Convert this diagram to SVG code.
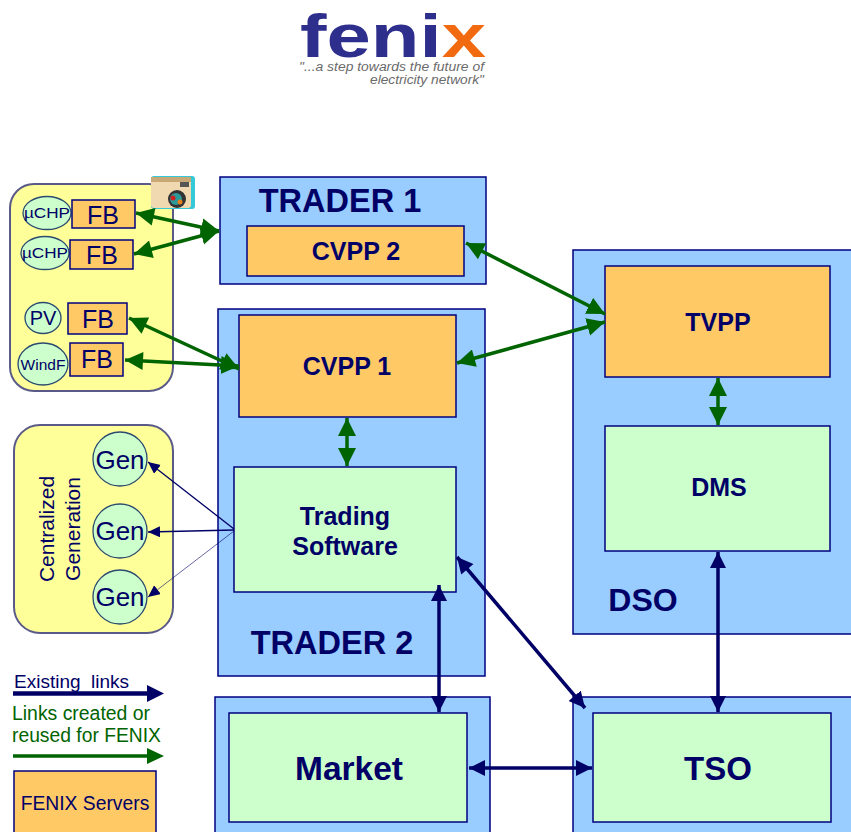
<svg xmlns="http://www.w3.org/2000/svg" width="851" height="832" viewBox="0 0 851 832">
<defs>
<style>
text{font-family:"Liberation Sans",Arial,sans-serif;fill:#000066;text-anchor:middle}
.blue{fill:#99ccff;stroke:#000080;stroke-width:1.5}
.org{fill:#ffc966;stroke:#000080;stroke-width:1.5}
.grn{fill:#ccffcc;stroke:#000080;stroke-width:1.5}
.yel{fill:#ffff99;stroke:#5a5a88;stroke-width:2}
.cir{fill:#ccffcc;stroke:#2a4a70;stroke-width:1.3}
.b{font-weight:bold}
.l{text-anchor:start}
.g{stroke:#006400;stroke-width:3.5;fill:none;marker-start:url(#gs);marker-end:url(#ge)}
.n{stroke:#000066;stroke-width:3.5;fill:none;marker-start:url(#ns);marker-end:url(#ne)}
</style>
<marker id="ge" markerUnits="userSpaceOnUse" markerWidth="20" markerHeight="20" refX="18" refY="9" orient="auto"><path d="M0 0L18 9L0 18Z" fill="#006400"/></marker>
<marker id="gs" markerUnits="userSpaceOnUse" markerWidth="20" markerHeight="20" refX="0" refY="9" orient="auto"><path d="M18 0L0 9L18 18Z" fill="#006400"/></marker>
<marker id="ne" markerUnits="userSpaceOnUse" markerWidth="20" markerHeight="18" refX="16" refY="8" orient="auto"><path d="M0 0L16 8L0 16Z" fill="#000066"/></marker>
<marker id="ns" markerUnits="userSpaceOnUse" markerWidth="20" markerHeight="18" refX="0" refY="8" orient="auto"><path d="M16 0L0 8L16 16Z" fill="#000066"/></marker>
<marker id="sm" markerUnits="userSpaceOnUse" markerWidth="14" markerHeight="12" refX="12" refY="5.5" orient="auto"><path d="M0 0L12 5.5L0 11Z" fill="#000066"/></marker>
</defs>
<rect width="851" height="832" fill="#fff"/>

<g id="logo">
<text x="300" y="57" style="font-size:62px;font-weight:bold;fill:#2e2e8c;text-anchor:start" textLength="186" lengthAdjust="spacingAndGlyphs">feni<tspan style="fill:#f26a10">x</tspan></text>
<text x="299" y="71" style="font-size:12px;font-style:italic;fill:#6a6a6a;text-anchor:start" textLength="185" lengthAdjust="spacingAndGlyphs">"...a step towards the future of</text>
<text x="370" y="84" style="font-size:12px;font-style:italic;fill:#6a6a6a;text-anchor:start" textLength="114" lengthAdjust="spacingAndGlyphs">electricity network"</text>
</g>

<g id="trader1">
<rect class="blue" x="220" y="177" width="266" height="107"/>
<text class="b" x="340" y="212" font-size="32.500">TRADER 1</text>
</g>
<g id="cvpp2"><rect class="org" x="247" y="226" width="217" height="50"/><text class="b" x="356" y="260" font-size="25">CVPP 2</text></g>
<g id="trader2">
<rect class="blue" x="218" y="309" width="267" height="367"/>
<text class="b" x="332" y="654" font-size="32.500">TRADER 2</text>
</g>
<g id="cvpp1"><rect class="org" x="239" y="315" width="217" height="102"/><text class="b" x="347" y="375" font-size="25">CVPP 1</text></g>
<g id="trading"><rect class="grn" x="234" y="467" width="222" height="125"/>
<text class="b" x="345" y="525" font-size="25">Trading</text><text class="b" x="345" y="555" font-size="25">Software</text></g>
<g id="dso">
<rect class="blue" x="573" y="250" width="279" height="384"/>
<text class="b" x="643" y="611" font-size="32">DSO</text>
</g>
<g id="tvpp"><rect class="org" x="605" y="266" width="225" height="111"/><text class="b" x="718" y="331" font-size="25">TVPP</text></g>
<g id="dms"><rect class="grn" x="605" y="426" width="225" height="125"/><text class="b" x="719" y="496" font-size="25">DMS</text></g>
<g id="marketbg"><rect class="blue" x="215" y="697" width="275" height="136"/></g>
<g id="market"><rect class="grn" x="229" y="713" width="238" height="109"/><text class="b" x="349" y="780" font-size="33.500">Market</text></g>
<g id="tsobg"><rect class="blue" x="573" y="697" width="279" height="136"/></g>
<g id="tso"><rect class="grn" x="593" y="713" width="238" height="109"/><text class="b" x="718" y="780" font-size="33">TSO</text></g>

<g id="fieldgroup">
<rect class="yel" x="10" y="184" width="163" height="207" rx="24"/>
</g>
<g id="washer">
<rect x="151" y="176" width="44" height="33" rx="3" fill="#35c8d8"/>
<rect x="151" y="177" width="40" height="31" rx="3" fill="#f0d8b0"/>
<rect x="151" y="177" width="40" height="5" fill="#c9a878"/>
<circle cx="177" cy="199" r="9" fill="#333"/>
<circle cx="176" cy="199" r="6" fill="#2a9a9a"/>
<circle cx="173" cy="198" r="2.500" fill="#d02020"/>
<circle cx="180" cy="202" r="2.500" fill="#e08020"/>
<rect x="180" y="182" width="9" height="5" fill="#555"/>
</g>
<g id="uchp1"><ellipse class="cir" cx="47" cy="213" rx="24" ry="16.500"/><text x="47" y="218" font-size="15.500" textLength="46" lengthAdjust="spacingAndGlyphs">µCHP</text></g>
<g id="fb1"><rect class="org" x="72" y="200" width="63" height="28"/><text x="103" y="224" font-size="25">FB</text></g>
<g id="uchp2"><ellipse class="cir" cx="45" cy="253" rx="24" ry="16.500"/><text x="45" y="258" font-size="15.500" textLength="46" lengthAdjust="spacingAndGlyphs">µCHP</text></g>
<g id="fb2"><rect class="org" x="70" y="240" width="63" height="29"/><text x="102" y="264" font-size="25">FB</text></g>
<g id="pv"><ellipse class="cir" cx="43" cy="318" rx="18" ry="15.500"/><text x="43" y="325" font-size="20">PV</text></g>
<g id="fb3"><rect class="org" x="68" y="303" width="59" height="31"/><text x="98" y="328" font-size="25">FB</text></g>
<g id="windf"><ellipse class="cir" cx="43" cy="364" rx="25" ry="21"/><text x="43" y="370" font-size="15.500">WindF</text></g>
<g id="fb4"><rect class="org" x="70" y="343" width="53" height="33"/><text x="97" y="368" font-size="25">FB</text></g>

<g id="central">
<rect class="yel" x="14" y="425" width="159" height="208" rx="26"/>
<text transform="translate(54 529) rotate(-90)" font-size="21">Centralized</text>
<text transform="translate(80 529) rotate(-90)" font-size="21">Generation</text>
</g>
<g id="gen1"><circle class="cir" cx="120" cy="459" r="27"/><text x="120" y="469" font-size="26">Gen</text></g>
<g id="gen2"><circle class="cir" cx="120" cy="531" r="27"/><text x="120" y="540" font-size="26">Gen</text></g>
<g id="gen3"><circle class="cir" cx="120" cy="597" r="27"/><text x="120" y="606" font-size="26">Gen</text></g>

<g id="connectors">
<path class="g" d="M136 213L219 231"/>
<path class="g" d="M134 254L219 231"/>
<path class="g" d="M129 318L239 369"/>
<path class="g" d="M125 360L239 366"/>
<path class="g" d="M466 243L605 314"/>
<path class="g" d="M457 363L605 322"/>
<path class="g" d="M718 378L718 425"/>
<path class="g" d="M347 418L347 466"/>
<path class="n" d="M718 552L718 712"/>
<path class="n" d="M439 585L439 712"/>
<path class="n" d="M457 557L585 708"/>
<path class="n" d="M469 768L592 768"/>
<g fill="none" stroke="#000066">
<path d="M234 529L148 462" stroke-width="1.300" marker-end="url(#sm)"/>
<path d="M234 530L148 532" stroke-width="1.300" marker-end="url(#sm)"/>
<path d="M234 531L148 597" stroke-width="0.600" marker-end="url(#sm)"/>
</g>
</g>

<g id="legend">
<text class="l" x="14" y="688" font-size="19" xml:space="preserve">Existing  links</text>
<path d="M13 693.500H150" stroke="#000066" stroke-width="4.500" fill="none"/>
<path d="M147 685L164 693.500L147 702Z" fill="#000066"/>
<text class="l" x="12" y="720" font-size="19.400" style="fill:#006400">Links created or</text>
<text class="l" x="12" y="742" font-size="19.300" style="fill:#006400">reused for FENIX</text>
<path d="M13 756H150" stroke="#006400" stroke-width="3.500" fill="none"/>
<path d="M147 748L164 756L147 764Z" fill="#006400"/>
</g>
<g id="servers"><rect class="org" x="14" y="771" width="142" height="62"/><text x="85" y="810" font-size="19.300">FENIX Servers</text></g>
</svg>
